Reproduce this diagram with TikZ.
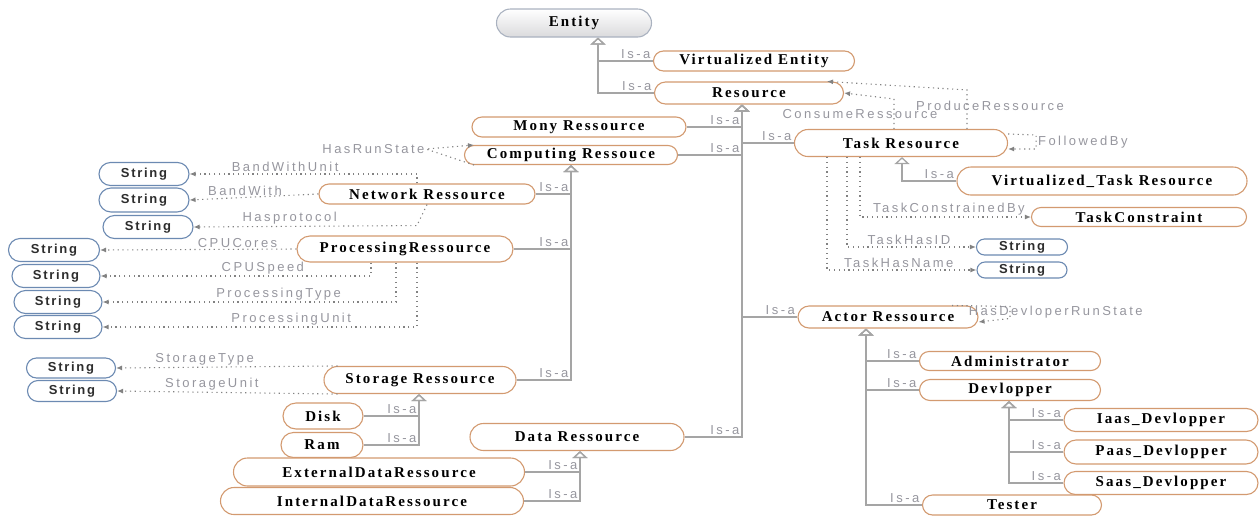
\documentclass[tikz,border=0pt]{standalone}
\usepackage{fontspec}
\setmainfont{Liberation Serif}
\newfontfamily\classFont[LetterSpace=14]{Liberation Serif}
\newfontfamily\stringFont[LetterSpace=13]{Liberation Sans}
\newfontfamily\relFont[LetterSpace=19]{Liberation Sans}
\usetikzlibrary{arrows.meta,shapes.misc}

\definecolor{classEdge}{RGB}{211,154,112}
\definecolor{stringEdge}{RGB}{108,138,178}
\definecolor{stringText}{RGB}{45,45,45}
\definecolor{entityEdge}{RGB}{170,178,192}
\definecolor{entityFill}{RGB}{218,218,220}
\definecolor{isaGray}{RGB}{165,165,165}
\definecolor{relGray}{RGB}{130,130,130}
\definecolor{labelGray}{RGB}{150,150,158}

\begin{document}
\begin{tikzpicture}[x=1pt, y=-1pt,
  className/.style={rounded rectangle, draw=classEdge, line width=1.1pt, fill=white, inner sep=0pt,
    font=\classFont\bfseries\fontsize{15}{17}\selectfont},
  entityName/.style={className, draw=entityEdge, top color=white, bottom color=entityFill},
  stringName/.style={rounded rectangle, draw=stringEdge, line width=1.1pt, fill=white, inner sep=0pt,
    text=stringText, font=\stringFont\bfseries\fontsize{13}{15}\selectfont},
  isA/.style={draw=isaGray, line width=1.3pt, -{Triangle[open, width=15pt, length=7pt]}},
  isALabel/.style={anchor=south east, inner sep=2pt, text=labelGray, font=\relFont\fontsize{13}{15}\selectfont},
  relation/.style={draw=relGray, line width=1.1pt, dash pattern=on 1.2pt off 3.6pt, -{Latex[length=6pt, width=5pt]}},
  relLabel/.style={anchor=south, inner sep=1.5pt, text=labelGray, font=\relFont\fontsize{13}{15}\selectfont}]
\useasboundingbox (0,0) rectangle (1259,515);

\node[entityName, minimum width=155, minimum height=28] (entity) at (574,23) {Entity};
\node[className, minimum width=201, minimum height=20] (virtEntity) at (754,61) {Virtualized Entity};
\node[className, minimum width=189, minimum height=22] (resource) at (749,93) {Resource};
\node[className, minimum width=214, minimum height=20] (mony) at (579,127) {Mony Ressource};
\node[className, minimum width=213, minimum height=19] (computing) at (571,155) {Computing Ressouce};
\node[className, minimum width=213, minimum height=27] (task) at (901,143) {Task Resource};
\node[className, minimum width=290, minimum height=28] (virtTask) at (1102,181) {Virtualized\_Task Resource};
\node[className, minimum width=215, minimum height=19] (constraint) at (1139,217) {TaskConstraint};
\node[stringName, minimum width=91, minimum height=16] (taskIdStr) at (1022,247) {String};
\node[stringName, minimum width=90, minimum height=16] (taskNameStr) at (1022,270) {String};

\node[className, minimum width=216, minimum height=20] (network) at (427,194) {Network Ressource};
\node[className, minimum width=216, minimum height=26] (processing) at (405,249) {ProcessingRessource};
\node[className, minimum width=192, minimum height=27] (storage) at (420,380) {Storage Ressource};
\node[className, minimum width=80, minimum height=26] (disk) at (323,416) {Disk};
\node[className, minimum width=82, minimum height=25] (ram) at (322,445) {Ram};
\node[className, minimum width=291, minimum height=28] (external) at (379,472) {ExternalDataRessource};
\node[className, minimum width=303, minimum height=27] (internal) at (372,501) {InternalDataRessource};
\node[className, minimum width=214, minimum height=27] (data) at (577,437) {Data Ressource};

\node[stringName, minimum width=90, minimum height=23] (bandUnitStr) at (144,174) {String};
\node[stringName, minimum width=90, minimum height=24] (bandStr) at (144,200) {String};
\node[stringName, minimum width=90, minimum height=23] (protocolStr) at (148,227) {String};
\node[stringName, minimum width=91, minimum height=23] (coresStr) at (54,250) {String};
\node[stringName, minimum width=88, minimum height=23] (speedStr) at (56,276) {String};
\node[stringName, minimum width=88, minimum height=23] (procTypeStr) at (58,302) {String};
\node[stringName, minimum width=88, minimum height=23] (procUnitStr) at (58,327) {String};
\node[stringName, minimum width=89, minimum height=20] (storTypeStr) at (71,368) {String};
\node[stringName, minimum width=89, minimum height=21] (storUnitStr) at (72,391) {String};

\node[className, minimum width=180, minimum height=22] (actor) at (888,317) {Actor Ressource};
\node[className, minimum width=181, minimum height=19] (admin) at (1010,361) {Administrator};
\node[className, minimum width=181, minimum height=21] (devlopper) at (1010,390) {Devlopper};
\node[className, minimum width=194, minimum height=23] (iaas) at (1161,420) {Iaas\_Devlopper};
\node[className, minimum width=194, minimum height=24] (paas) at (1161,452) {Paas\_Devlopper};
\node[className, minimum width=194, minimum height=23] (saas) at (1161,483) {Saas\_Devlopper};
\node[className, minimum width=179, minimum height=20] (tester) at (1012,505) {Tester};

% Is-a trees
\draw[isA] (virtEntity.west) -| node[isALabel, pos=0] {Is-a} ([xshift=24pt]entity.south);
\draw[isA] (resource.west) -| node[isALabel, pos=0] {Is-a} ([xshift=24pt]entity.south);

\draw[isA] (mony.east) -| node[isALabel, pos=0.5] {Is-a} ([xshift=-7pt]resource.south);
\draw[isA] (computing.east) -| node[isALabel, pos=0.5] {Is-a} ([xshift=-7pt]resource.south);
\draw[isA] (task.west) -| node[isALabel, pos=0] {Is-a} ([xshift=-7pt]resource.south);
\draw[isA] (actor.west) -| node[isALabel, pos=0] {Is-a} ([xshift=-7pt]resource.south);
\draw[isA] (data.east) -| node[isALabel, pos=0.5] {Is-a} ([xshift=-7pt]resource.south);

\draw[isA] (network.east) -| node[isALabel, pos=0.5] {Is-a} (computing.south);
\draw[isA] (processing.east) -| node[isALabel, pos=0.5] {Is-a} (computing.south);
\draw[isA] (storage.east) -| node[isALabel, pos=0.5] {Is-a} (computing.south);

\draw[isA] (disk.east) -| node[isALabel, pos=0.5] {Is-a} ([xshift=-1pt]storage.south);
\draw[isA] (ram.east) -| node[isALabel, pos=0.5] {Is-a} ([xshift=-1pt]storage.south);
\draw[isA] (external.east) -| node[isALabel, pos=0.5] {Is-a} ([xshift=3pt]data.south);
\draw[isA] (internal.east) -| node[isALabel, pos=0.5] {Is-a} ([xshift=3pt]data.south);

\draw[isA] (virtTask.west) -| node[isALabel, pos=0] {Is-a} ([xshift=1pt]task.south);

\draw[isA] (admin.west) -| node[isALabel, pos=0] {Is-a} ([xshift=-22pt]actor.south);
\draw[isA] (devlopper.west) -| node[isALabel, pos=0] {Is-a} ([xshift=-22pt]actor.south);
\draw[isA] (tester.west) -| node[isALabel, pos=0] {Is-a} ([xshift=-22pt]actor.south);
\draw[isA] (iaas.west) -| node[isALabel, pos=0] {Is-a} ([xshift=-1pt]devlopper.south);
\draw[isA] (paas.west) -| node[isALabel, pos=0] {Is-a} ([xshift=-1pt]devlopper.south);
\draw[isA] (saas.west) -| node[isALabel, pos=0] {Is-a} ([xshift=-1pt]devlopper.south);

% properties
\draw[relation] (computing.south west) -- ++(-48,-16) node[relLabel, anchor=east, inner sep=1pt] {HasRunState} -- (computing.north west);

\draw[relation] ([xshift=-10pt]network.north) |- node[relLabel, pos=0.79] {BandWithUnit} (bandUnitStr.east);
\draw[relation] (network.west) -- node[relLabel, pos=0.57] {BandWith} (bandStr.east);
\draw[relation] (network.south) -- ++(-10,21) -- node[relLabel, pos=0.57] {Hasprotocol} (protocolStr.east);

\draw[relation] (processing.west) -- node[relLabel, pos=0.3] {CPUCores} (coresStr.east);
\draw[relation] ([xshift=-34pt]processing.south) |- node[relLabel, pos=0.7] {CPUSpeed} (speedStr.east);
\draw[relation] ([xshift=-9pt]processing.south) |- node[relLabel, pos=0.7] {ProcessingType} (procTypeStr.east);
\draw[relation] ([xshift=12pt]processing.south) |- node[relLabel, pos=0.7] {ProcessingUnit} (procUnitStr.east);

\draw[relation] (storage.north west) -- node[relLabel, pos=0.6] {StorageType} (storTypeStr.east);
\draw[relation] (storage.south west) -- node[relLabel, pos=0.57] {StorageUnit} (storUnitStr.east);

\draw[relation] ([xshift=66pt]task.north) -- node[relLabel, anchor=center, pos=0.6, xshift=23pt] {ProduceRessource} ++(0,-39) -- ([xshift=78pt]resource.north);
\draw[relation] ([xshift=-7pt]task.north) -- node[relLabel, anchor=center, pos=0.5, xshift=-34pt] {ConsumeRessource} ++(0,-30) -- (resource.east);
\draw[relation] ([yshift=9pt]task.east) -- ++(28,1) -- node[relLabel, anchor=west, pos=0.5] {FollowedBy} ++(0,14) -- ([yshift=-6pt]task.east);
\draw[relation] ([xshift=-41pt]task.south) |- node[relLabel, pos=0.76] {TaskConstrainedBy} (constraint.west);
\draw[relation] ([xshift=-54pt]task.south) |- node[relLabel, pos=0.74] {TaskHasID} (taskIdStr.west);
\draw[relation] ([xshift=-74pt]task.south) |- node[relLabel, pos=0.74] {TaskHasName} (taskNameStr.west);

\draw[relation] ([xshift=-15pt]actor.north east) -- node[relLabel, pos=0.28, anchor=north west, inner sep=0pt] {HasDevloperRunState} ++(58,1) -- ++(0,12) -- ([yshift=-5pt]actor.east);
\end{tikzpicture}
\end{document}
